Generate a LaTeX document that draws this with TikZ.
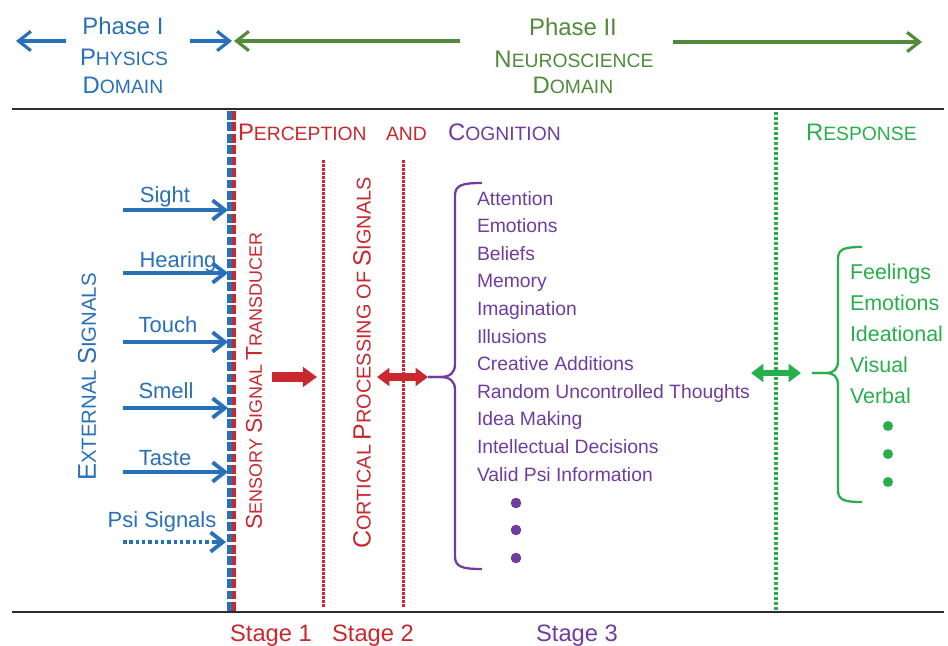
\documentclass[tikz,border=0pt]{standalone}
\usepackage{fontspec}
\setmainfont{Liberation Sans}
\usetikzlibrary{arrows.meta}
\definecolor{cblue}{RGB}{40,112,184}
\definecolor{cred}{RGB}{200,40,46}
\definecolor{cpurple}{RGB}{112,60,160}
\definecolor{cdgreen}{RGB}{80,138,58}
\definecolor{cgreen}{RGB}{40,174,76}
\definecolor{cline}{RGB}{45,45,45}
\newcommand\scw[4]{{\fontsize{#1}{#1}\selectfont #3}{\fontsize{#2}{#2}\selectfont #4}}
\newcommand\fs[1]{\fontsize{#1}{#1}\selectfont}
\tikzset{
  barb/.style={-{Straight Barb[length=7pt,width=11pt]}},
  toparrow/.style={barb, line width=1.8pt},
  sensearrow/.style={barb, line width=2.2pt, cblue},
  blockarrow/.style={-{Triangle[length=8pt,width=11pt]}, line width=5.5pt},
  dblarrow/.style={{Triangle[length=7pt,width=10pt]}-{Triangle[length=7pt,width=10pt]}, line width=4.3pt},
  sep/.style={cline, line width=1.2pt},
  brace/.style={line width=1.3pt},
  txt/.style={inner sep=0pt, outer sep=0pt},
  senselbl/.style={txt, anchor=base, cblue, font=\fs{12.5pt}},
  item/.style={txt, anchor=base west, cpurple, font=\fs{11pt}},
  gitem/.style={txt, anchor=base west, cgreen, font=\fs{12.2pt}},
  stagelbl/.style={txt, anchor=base, font=\fs{13.5pt}},
}
\begin{document}
\begin{tikzpicture}[x=0.02cm, y=-0.02cm]
\useasboundingbox (0,0) rectangle (948,646);

% ---------- top header ----------
\node[txt, anchor=base, cblue, font=\fs{13.6pt}] (ph1) at (123,34) {Phase I};
\node[txt, anchor=base, cblue] (ph1b) at (124,65) {\scw{13.6pt}{11pt}{P}{HYSICS}};
\node[txt, anchor=base, cblue] (ph1c) at (123,93) {\scw{13.6pt}{11pt}{D}{OMAIN}};
\node[txt, anchor=base, cdgreen, font=\fs{13.6pt}] (ph2) at (573,35) {Phase II};
\node[txt, anchor=base, cdgreen] (ph2b) at (574,67) {\scw{13.6pt}{11pt}{N}{EUROSCIENCE}};
\node[txt, anchor=base, cdgreen] (ph2c) at (573,93) {\scw{13.6pt}{11pt}{D}{OMAIN}};

\coordinate (bl1) at (66,41);  \coordinate (bl2) at (16,41);
\coordinate (br1) at (190,41); \coordinate (br2) at (232,41);
\coordinate (gl1) at (460,41); \coordinate (gl2) at (234,41);
\coordinate (gr1) at (673,42); \coordinate (gr2) at (922,42);
\draw[toparrow, cblue] (bl1) -- (bl2);
\draw[toparrow, cblue] (br1) -- (br2);
\draw[toparrow, cdgreen] (gl1) -- (gl2);
\draw[toparrow, cdgreen] (gr1) -- (gr2);

% ---------- separator lines ----------
\coordinate (tl1) at (12,109);  \coordinate (tl2) at (944,109);
\coordinate (bb1) at (12,612);  \coordinate (bb2) at (944,612);
\draw[sep] (tl1) -- (tl2);
\draw[sep] (bb1) -- (bb2);

% ---------- transducer boundary ----------
\coordinate (tb1) at (229.5,111); \coordinate (tb2) at (229.5,611);
\coordinate (tr1) at (234,111);   \coordinate (tr2) at (234,611);
\draw[cblue, line width=2.6pt, dash pattern=on 5pt off 1.5pt] (tb1) -- (tb2);
\draw[cred, line width=2.3pt, dash pattern=on 5pt off 1.5pt] (tr1) -- (tr2);

% stage dotted lines (drawn as rows of small square dots)
\foreach \y in {160,164,...,606}{
  \fill[cred] (321.5,\y) rectangle ++(3,2.6);
  \fill[cred] (401.5,\y) rectangle ++(3,2.6);
}
\foreach \y in {112,117,...,607}{
  \fill[cgreen] (774.3,\y) rectangle ++(3.4,3.2);
}

% ---------- headings ----------
\node[txt, anchor=base west, cred] (perc) at (238,140)
  {\scw{13.6pt}{11pt}{P}{ERCEPTION}\hspace{11pt}{\fs{11pt}AND}};
\node[txt, anchor=base west, cpurple] (cogn) at (448,140) {\scw{13.6pt}{11pt}{C}{OGNITION}};
\node[txt, anchor=base west, cgreen] (resp) at (806,140) {\scw{13.6pt}{11pt}{R}{ESPONSE}};

% ---------- rotated labels ----------
\node[txt, rotate=90, cblue] (ext) at (87,377) {\scw{14.6pt}{11.6pt}{E}{XTERNAL} \scw{14.6pt}{11.6pt}{S}{IGNALS}};
\node[txt, rotate=90, cred] (sst) at (254,381) {\scw{13pt}{10.2pt}{S}{ENSORY} \scw{13pt}{10.2pt}{S}{IGNAL} \scw{13pt}{10.2pt}{T}{RANSDUCER}};
\node[txt, rotate=90, cred] (cps) at (362,363) {\scw{14.2pt}{11.3pt}{C}{ORTICAL} \scw{14.2pt}{11.3pt}{P}{ROCESSING} {\fs{11.3pt}OF} \scw{14.2pt}{11.3pt}{S}{IGNALS}};

\node[senselbl] (lsight) at (165,202) {Sight};
\node[senselbl] (lhear) at (178,267) {Hearing};
\node[senselbl] (ltouch) at (168,332) {Touch};
\node[senselbl] (lsmell) at (166,398) {Smell};
\node[senselbl] (ltaste) at (165,465) {Taste};
\node[senselbl] (lpsi) at (162,527) {Psi Signals};

\foreach \n/\y in {sight/210, hear/273, touch/342, smell/408, taste/472}{
  \coordinate (\n A) at (123,\y);
  \coordinate (\n B) at (228,\y);
  \draw[sensearrow] (\n A) -- (\n B);
}
\coordinate (psiA) at (123,542); \coordinate (psiB) at (226,542);
\draw[cblue, line width=2.2pt, dash pattern=on 2pt off 1.6pt] (psiA) -- (217,542);
\draw[sensearrow] (214,542) -- (psiB);

% ---------- processing arrows ----------
\coordinate (ra1) at (272,377); \coordinate (ra2) at (317,377);
\draw[blockarrow, cred] (ra1) -- (ra2);
\coordinate (rd1) at (377,377); \coordinate (rd2) at (428,377);
\draw[dblarrow, cred] (rd1) -- (rd2);

% ---------- purple brace and list ----------
\coordinate (pbTop) at (482,183); \coordinate (pbTip) at (428,377); \coordinate (pbBot) at (482,569);
\draw[brace, cpurple] (pbTop) .. controls (462,183) and (455,185) .. (455,196) -- (455,364)
  .. controls (455,373) and (450,377) .. (440,377) -- (pbTip);
\draw[brace, cpurple] (pbTip) -- (440,377) .. controls (450,377) and (455,381) .. (455,390)
  -- (455,556) .. controls (455,567) and (462,569) .. (pbBot);

\foreach \t [count=\i from 0] in {Attention, Emotions, Beliefs, Memory, Imagination, Illusions,
  Creative Additions, Random Uncontrolled Thoughts, Idea Making, Intellectual Decisions, Valid Psi Information}{
  \node[item] (it\i) at (477,205+27.6*\i) {\t};
}
\foreach \y [count=\i] in {503,530,558}{
  \fill[cpurple] (516,\y) circle (5.3) coordinate (pd\i);
}

% ---------- response ----------
\coordinate (ga1) at (751,373); \coordinate (ga2) at (801,373);
\draw[dblarrow, cgreen, line width=3.8pt] (ga1) -- (ga2);
\coordinate (gbTop) at (862,247); \coordinate (gbTip) at (812,373); \coordinate (gbBot) at (862,502);
\draw[brace, cgreen] (gbTop) .. controls (844,247) and (838,249) .. (838,259) -- (838,361)
  .. controls (838,369) and (834,373) .. (826,373) -- (gbTip);
\draw[brace, cgreen] (gbTip) -- (826,373) .. controls (834,373) and (838,377) .. (838,385)
  -- (838,490) .. controls (838,500) and (844,502) .. (gbBot);
\foreach \t [count=\i from 0] in {Feelings, Emotions, Ideational, Visual, Verbal}{
  \node[gitem] (gi\i) at (850,279+31*\i) {\t};
}
\foreach \y [count=\i] in {426,454,482}{
  \fill[cgreen] (888,\y) circle (5) coordinate (gd\i);
}

% ---------- stages ----------
\node[stagelbl, cred] (s1) at (271,641) {Stage 1};
\node[stagelbl, cred] (s2) at (373,641) {Stage 2};
\node[stagelbl, cpurple] (s3) at (577,641) {Stage 3};
\end{tikzpicture}
\end{document}
